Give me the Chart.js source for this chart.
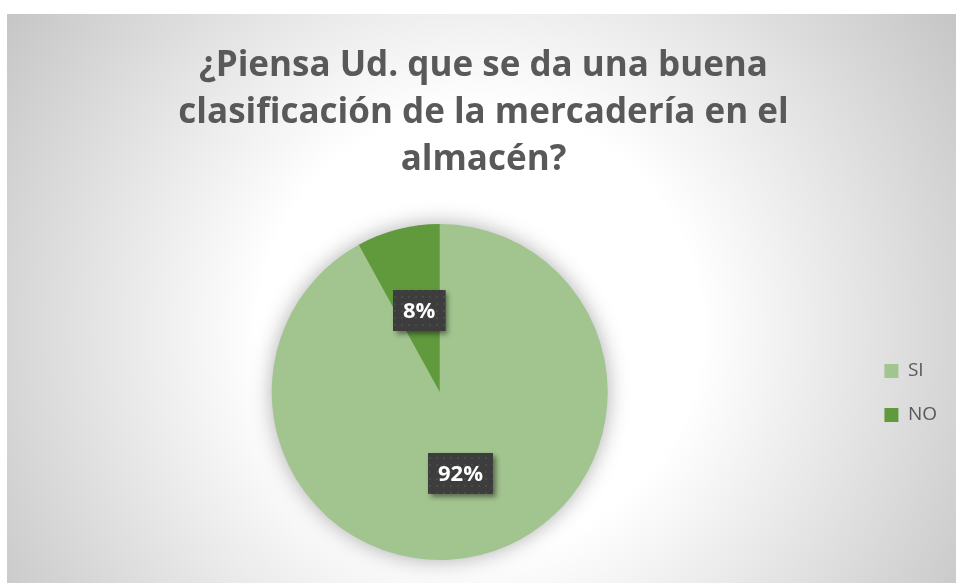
<!DOCTYPE html>
<html>
<head>
<meta charset="utf-8">
<script src="https://cdn.jsdelivr.net/npm/chart.js@4.4.0/dist/chart.umd.min.js"></script>
<style>
  html, body { margin: 0; padding: 0; background: #ffffff; }
  #wrap { position: relative; width: 956px; height: 583px; }
</style>
</head>
<body>
<div id="wrap"><canvas id="c" width="956" height="583"></canvas></div>
<script>
const titleLines = ['¿Piensa Ud. que se da una buena', 'clasificación de la mercadería en el', 'almacén?'];
const categories = ['SI', 'NO'];
const percentValues = [92, 8];
const sliceColors = ['#a2c48f', '#609a3d'];

const FONT = "'Open Sans', 'Liberation Sans', sans-serif";

// Background of the chart area (radial gradient)
const bgPlugin = {
  id: 'bgPlugin',
  beforeDraw(chart) {
    const ctx = chart.ctx;
    const x0 = 7, y0 = 14, w = chart.width - x0, h = chart.height - y0;
    ctx.save();
    const g = ctx.createRadialGradient(480, 330, 0, 480, 330, 580);
    g.addColorStop(0, '#ffffff');
    g.addColorStop(0.38, '#ffffff');
    g.addColorStop(1, '#c4c4c4');
    ctx.fillStyle = g;
    ctx.fillRect(x0, y0, w, h);
    ctx.restore();
  }
};

// Soft shadow behind the pie
const pieShadow = {
  id: 'pieShadow',
  beforeDatasetsDraw(chart) {
    const meta = chart.getDatasetMeta(0);
    const el = meta.data[0];
    if (!el) return;
    const ctx = chart.ctx;
    ctx.save();
    ctx.shadowColor = 'rgba(0,0,0,0.35)';
    ctx.shadowBlur = 22;
    ctx.fillStyle = sliceColors[0];
    ctx.beginPath();
    ctx.arc(el.x, el.y, el.outerRadius - 1, 0, Math.PI * 2);
    ctx.fill();
    ctx.restore();
  }
};

// Dark callout data labels
function makePattern(ctx) {
  const p = document.createElement('canvas');
  p.width = 7; p.height = 7;
  const pc = p.getContext('2d');
  pc.fillStyle = '#3d3d3d';
  pc.fillRect(0, 0, 7, 7);
  pc.fillStyle = '#4a4a4a';
  pc.fillRect(2, 2, 2, 2);
  return ctx.createPattern(p, 'repeat');
}
const labelPlugin = {
  id: 'labelPlugin',
  afterDatasetsDraw(chart) {
    const ctx = chart.ctx;
    const meta = chart.getDatasetMeta(0);
    const pattern = makePattern(ctx);
    meta.data.forEach((arc, i) => {
      const pt = arc.getCenterPoint();
      const text = percentValues[i] + '%';
      ctx.save();
      ctx.font = 'bold 22px ' + FONT;
      const tw = ctx.measureText(text).width;
      const bw = tw + 20, bh = 41;
      const bx = Math.round(pt.x - bw / 2), by = Math.round(pt.y - bh / 2);
      ctx.shadowColor = 'rgba(0,0,0,0.45)';
      ctx.shadowBlur = 5;
      ctx.shadowOffsetX = 3;
      ctx.shadowOffsetY = 3;
      ctx.fillStyle = '#3d3d3d';
      ctx.fillRect(bx, by, bw, bh);
      ctx.shadowColor = 'transparent';
      ctx.fillStyle = pattern;
      ctx.fillRect(bx, by, bw, bh);
      ctx.fillStyle = '#ffffff';
      ctx.textAlign = 'center';
      ctx.textBaseline = 'middle';
      ctx.fillText(text, bx + bw / 2, by + bh / 2 + 1);
      ctx.restore();
    });
  }
};

new Chart(document.getElementById('c'), {
  type: 'pie',
  data: {
    labels: categories,
    datasets: [{
      data: percentValues,
      backgroundColor: sliceColors,
      borderWidth: 0
    }]
  },
  options: {
    responsive: false,
    animation: false,
    layout: { padding: { left: 20, right: 9, top: 14, bottom: 23 } },
    plugins: {
      title: {
        display: true,
        text: titleLines,
        color: '#595959',
        font: { family: FONT, size: 35, weight: 'bold', lineHeight: '47px' },
        padding: { top: 29, bottom: 40 }
      },
      legend: {
        position: 'right',
        title: {
          display: true,
          text: ' ',
          font: { family: FONT, size: 12, lineHeight: '14px' },
          padding: { top: 198, bottom: 0 }
        },
        labels: {
          color: '#595959',
          font: { family: FONT, size: 19 },
          boxWidth: 14,
          boxHeight: 14,
          padding: 25
        }
      },
      tooltip: { enabled: false }
    }
  },
  plugins: [bgPlugin, pieShadow, labelPlugin]
});
</script>
</body>
</html>
